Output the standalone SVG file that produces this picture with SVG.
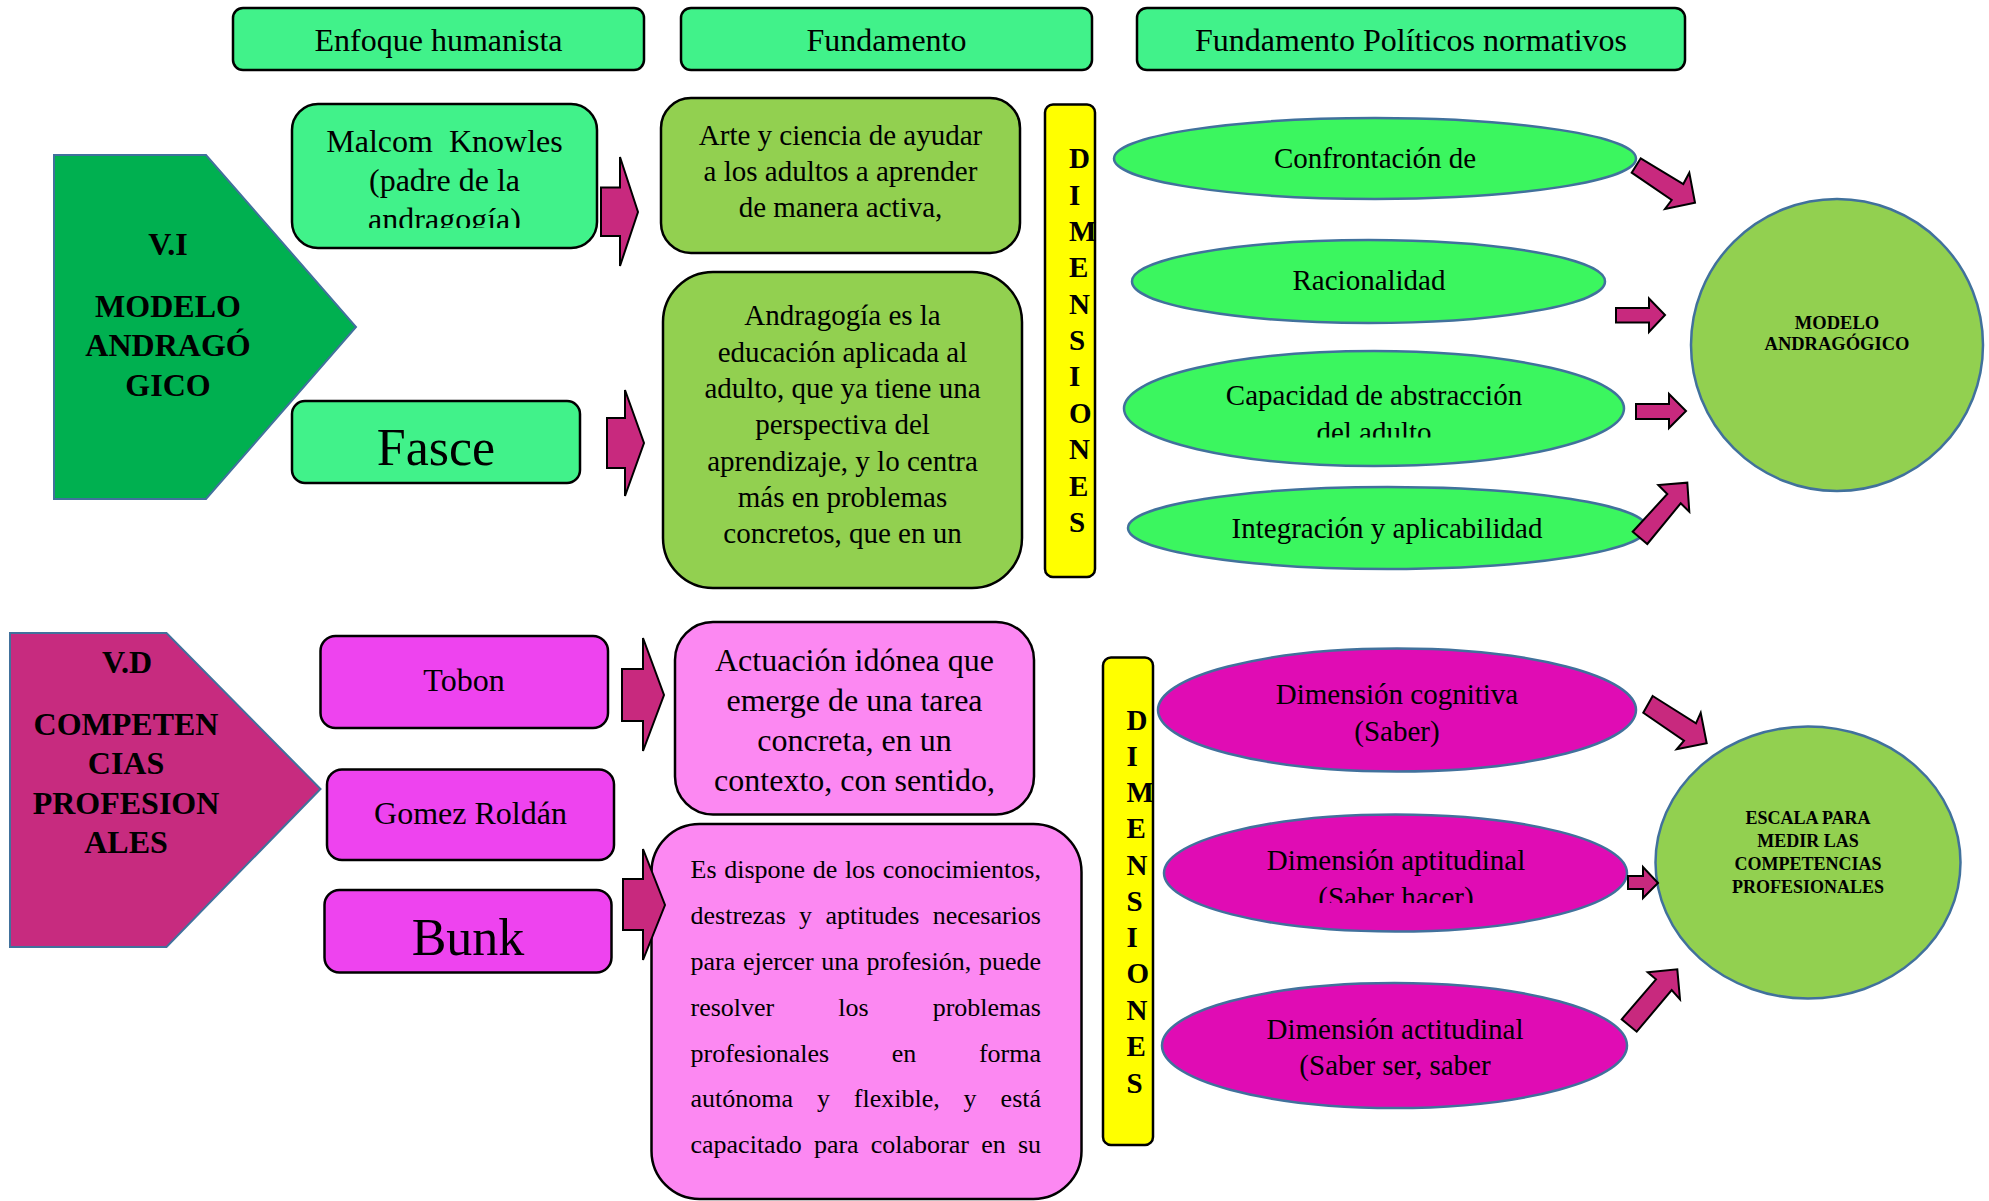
<svg xmlns="http://www.w3.org/2000/svg" width="1989" height="1201" viewBox="0 0 1989 1201">
<style>
text{font-family:"Liberation Serif","Times New Roman",serif;fill:#000}
.c{text-anchor:middle}
.b{font-weight:bold}
.box{stroke:#000;stroke-width:2.5}
.mint{fill:#41F28A}
.lime{fill:#92D050}
.mag{fill:#EE43EF}
.pink{fill:#FC88F2}
.yel{fill:#FFFF00}
.ell{stroke:#41719C;stroke-width:2.5}
.eg{fill:#3BF65F}
.em{fill:#E00CB4}
.pent{stroke:#41719C;stroke-width:2}
.arr{fill:#C8297E;stroke:#000;stroke-width:2;stroke-linejoin:miter}
.f32{font-size:32px}
.f29{font-size:29px}
.f26{font-size:26px}
.f52{font-size:52px}
</style>
<defs>
<clipPath id="clipMalcom"><rect x="292" y="100" width="306" height="128"/></clipPath>
<clipPath id="clipCap"><rect x="1120" y="350" width="510" height="87.5"/></clipPath>
<clipPath id="clipApt"><rect x="1160" y="810" width="470" height="93"/></clipPath>
</defs>

<g id="header-enfoque">
<rect class="box mint" x="233" y="8" width="411" height="62" rx="10"/>
<text class="c f32" x="438.5" y="51">Enfoque humanista</text>
</g>
<g id="header-fundamento">
<rect class="box mint" x="681" y="8" width="411" height="62" rx="10"/>
<text class="c f32" x="886.5" y="51">Fundamento</text>
</g>
<g id="header-politicos">
<rect class="box mint" x="1137" y="8" width="548" height="62" rx="10"/>
<text class="c f32" x="1411" y="51">Fundamento Políticos normativos</text>
</g>

<g id="vi-modelo">
<polygon class="pent" fill="#00B050" points="54,155 206,155 356,327 206,499 54,499"/>
<text class="c b f32" x="168" y="254.5">V.I</text>
<text class="c b f32" x="168" y="317">MODELO</text>
<text class="c b f32" x="168" y="356">ANDRAGÓ</text>
<text class="c b f32" x="168" y="396">GICO</text>
</g>

<g id="malcom">
<rect class="box mint" x="292" y="104" width="305" height="144" rx="26"/>
<text class="c f32" x="444.5" y="152" xml:space="preserve">Malcom  Knowles</text>
<text class="c f32" x="444.5" y="191">(padre de la</text>
<text class="c f32" x="444.5" y="230" clip-path="url(#clipMalcom)">andragogía)</text>
</g>

<g id="fasce">
<rect class="box mint" x="292" y="401" width="288" height="82" rx="13"/>
<text class="c f52" x="436" y="465">Fasce</text>
</g>

<g id="arte">
<rect class="box lime" x="661" y="98" width="359" height="155" rx="30"/>
<text class="c f29" x="840.5" y="145">Arte y ciencia de ayudar</text>
<text class="c f29" x="840.5" y="181">a los adultos a aprender</text>
<text class="c f29" x="840.5" y="217">de manera activa,</text>
</g>

<g id="andragogia">
<rect class="box lime" x="663" y="272" width="359" height="316" rx="50"/>
<text class="c f29" x="842.5" y="325">Andragogía es la</text>
<text class="c f29" x="842.5" y="362">educación aplicada al</text>
<text class="c f29" x="842.5" y="398">adulto, que ya tiene una</text>
<text class="c f29" x="842.5" y="434">perspectiva del</text>
<text class="c f29" x="842.5" y="471">aprendizaje, y lo centra</text>
<text class="c f29" x="842.5" y="507">más en problemas</text>
<text class="c f29" x="842.5" y="543">concretos, que en un</text>
</g>

<g id="dimensiones-1">
<rect class="box yel" x="1045" y="104.5" width="50" height="472.5" rx="8"/>
<text class="b f29" x="1069" y="168">D</text>
<text class="b f29" x="1069" y="205">I</text>
<text class="b f29" x="1069" y="241">M</text>
<text class="b f29" x="1069" y="277">E</text>
<text class="b f29" x="1069" y="314">N</text>
<text class="b f29" x="1069" y="350">S</text>
<text class="b f29" x="1069" y="386">I</text>
<text class="b f29" x="1069" y="423">O</text>
<text class="b f29" x="1069" y="459">N</text>
<text class="b f29" x="1069" y="496">E</text>
<text class="b f29" x="1069" y="532">S</text>
</g>

<g id="confrontacion">
<ellipse class="ell eg" cx="1375" cy="158.5" rx="261" ry="40.5"/>
<text class="c f29" x="1375" y="168">Confrontación de</text>
</g>
<g id="racionalidad">
<ellipse class="ell eg" cx="1368.5" cy="281.5" rx="236.5" ry="41.5"/>
<text class="c f29" x="1369" y="290">Racionalidad</text>
</g>
<g id="capacidad">
<ellipse class="ell eg" cx="1374" cy="408.5" rx="250" ry="57.5"/>
<text class="c f29" x="1374" y="405">Capacidad de abstracción</text>
<text class="c f29" x="1374" y="442" clip-path="url(#clipCap)">del adulto</text>
</g>
<g id="integracion">
<ellipse class="ell eg" cx="1387.5" cy="528" rx="259.5" ry="41"/>
<text class="c f29" x="1387" y="538">Integración y aplicabilidad</text>
</g>

<g id="modelo-andragogico">
<circle class="ell lime" cx="1837" cy="345" r="146"/>
<text class="c b" style="font-size:18.5px" x="1837" y="329">MODELO</text>
<text class="c b" style="font-size:18.5px" x="1837" y="350">ANDRAGÓGICO</text>
</g>

<g id="vd-competencias">
<polygon class="pent" fill="#C72B7F" points="10,633 166.5,633 320.5,789 166.5,947 10,947"/>
<text class="c b f32" x="127" y="673">V.D</text>
<text class="c b f32" x="126" y="735">COMPETEN</text>
<text class="c b f32" x="126" y="774">CIAS</text>
<text class="c b f32" x="126" y="813.5">PROFESION</text>
<text class="c b f32" x="126" y="853">ALES</text>
</g>

<g id="tobon">
<rect class="box mag" x="320.5" y="636" width="287.5" height="92" rx="15"/>
<text class="c f32" x="464" y="691">Tobon</text>
</g>
<g id="gomez">
<rect class="box mag" x="327" y="769.5" width="287" height="90.5" rx="15"/>
<text class="c f32" x="470.5" y="824">Gomez Roldán</text>
</g>
<g id="bunk">
<rect class="box mag" x="324.5" y="890" width="287" height="82.5" rx="15"/>
<text class="c f52" x="468" y="954.5">Bunk</text>
</g>

<g id="actuacion">
<rect class="box pink" x="675" y="622" width="359" height="192.5" rx="38"/>
<text class="c f32" x="854.5" y="671">Actuación idónea que</text>
<text class="c f32" x="854.5" y="711">emerge de una tarea</text>
<text class="c f32" x="854.5" y="751">concreta, en un</text>
<text class="c f32" x="854.5" y="790.5">contexto, con sentido,</text>
</g>

<g id="es-dispone">
<rect class="box pink" x="651.5" y="824" width="430" height="375" rx="48"/>
<text class="f26" y="878"><tspan x="690.5">Es</tspan> <tspan x="724.2">dispone</tspan> <tspan x="812.7">de</tspan> <tspan x="844.9">los</tspan> <tspan x="882.8">conocimientos,</tspan></text>
<text class="f26" y="924"><tspan x="690.5">destrezas</tspan> <tspan x="799.1">y</tspan> <tspan x="825.4">aptitudes</tspan> <tspan x="932.7">necesarios</tspan></text>
<text class="f26" y="970"><tspan x="690.5">para</tspan> <tspan x="742.9">ejercer</tspan> <tspan x="821.3">una</tspan> <tspan x="866.5">profesión,</tspan> <tspan x="978.9">puede</tspan></text>
<text class="f26" y="1016"><tspan x="690.5">resolver</tspan> <tspan x="838.3">los</tspan> <tspan x="932.7">problemas</tspan></text>
<text class="f26" y="1062"><tspan x="690.5">profesionales</tspan> <tspan x="891.8">en</tspan> <tspan x="978.9">forma</tspan></text>
<text class="f26" y="1107"><tspan x="690.5">autónoma</tspan> <tspan x="816.9">y</tspan> <tspan x="853.8">flexible,</tspan> <tspan x="963.6">y</tspan> <tspan x="1000.6">está</tspan></text>
<text class="f26" y="1153"><tspan x="690.5">capacitado</tspan> <tspan x="813.9">para</tspan> <tspan x="870.8">colaborar</tspan> <tspan x="981.2">en</tspan> <tspan x="1017.9">su</tspan></text>
</g>

<g id="dimensiones-2">
<rect class="box yel" x="1103" y="657.5" width="50" height="487.5" rx="8"/>
<text class="b f29" x="1126.5" y="729.5">D</text>
<text class="b f29" x="1126.5" y="766">I</text>
<text class="b f29" x="1126.5" y="802">M</text>
<text class="b f29" x="1126.5" y="838">E</text>
<text class="b f29" x="1126.5" y="875">N</text>
<text class="b f29" x="1126.5" y="911">S</text>
<text class="b f29" x="1126.5" y="947">I</text>
<text class="b f29" x="1126.5" y="983">O</text>
<text class="b f29" x="1126.5" y="1020">N</text>
<text class="b f29" x="1126.5" y="1056">E</text>
<text class="b f29" x="1126.5" y="1093">S</text>
</g>

<g id="dim-cognitiva">
<ellipse class="ell em" cx="1397" cy="710" rx="239" ry="61.5"/>
<text class="c f29" x="1397" y="704">Dimensión cognitiva</text>
<text class="c f29" x="1397" y="741">(Saber)</text>
</g>
<g id="dim-aptitudinal">
<ellipse class="ell em" cx="1395.5" cy="873" rx="231.5" ry="58.5"/>
<text class="c f29" x="1396" y="869.5">Dimensión aptitudinal</text>
<text class="c f29" x="1396" y="906.5" clip-path="url(#clipApt)">(Saber hacer)</text>
</g>
<g id="dim-actitudinal">
<ellipse class="ell em" cx="1394.5" cy="1045.5" rx="232.5" ry="62.5"/>
<text class="c f29" x="1395" y="1039">Dimensión actitudinal</text>
<text class="c f29" x="1395" y="1075">(Saber ser, saber</text>
</g>

<g id="escala">
<ellipse class="ell lime" cx="1808" cy="862.5" rx="152.5" ry="136"/>
<text class="c b" style="font-size:18px" x="1808" y="823.5">ESCALA PARA</text>
<text class="c b" style="font-size:18px" x="1808" y="846.5">MEDIR LAS</text>
<text class="c b" style="font-size:18px" x="1808" y="870">COMPETENCIAS</text>
<text class="c b" style="font-size:18px" x="1808" y="893">PROFESIONALES</text>
</g>

<g id="connectors">
<polygon class="arr" points="601,187.5 620,187.5 620,157 638,212 620,266 620,236 601,236"/>
<polygon class="arr" points="607,418 625,418 625,390 644,443 625,496 625,468 607,468"/>
<polygon class="arr" points="622,669 643,669 643,638 664,695 643,751 643,721 622,721"/>
<polygon class="arr" points="623,879 643,879 643,849 665,905 643,960 643,930 623,930"/>
<polygon class="arr" points="1640.7,158.3 1683.3,184 1689.3,172.7 1695,202.7 1665,209 1671.7,200 1631.7,172.7"/>
<polygon class="arr" points="1616,308 1649,308 1649,298.5 1665,315 1649,332 1649,322.5 1616,322.5"/>
<polygon class="arr" points="1636,404 1669,404 1669,394 1686,411 1669,428 1669,419 1636,419"/>
<polygon class="arr" points="1632.7,531.7 1667.3,494 1658.3,485 1687.3,482.7 1689.3,511.7 1680.7,503.3 1647.3,544"/>
<polygon class="arr" points="1652.7,696 1696,723.3 1700.7,712.7 1706.7,743.3 1676.7,749.3 1684,740.7 1643.3,712.7"/>
<polygon class="arr" points="1628,876 1643,876 1643,867 1658,883 1643,898 1643,889 1628,889"/>
<polygon class="arr" points="1621.7,1019.3 1656,979.3 1647.7,972.3 1677.3,969.3 1680,999.3 1671.7,990 1636.7,1031.7"/>
</g>
</svg>
